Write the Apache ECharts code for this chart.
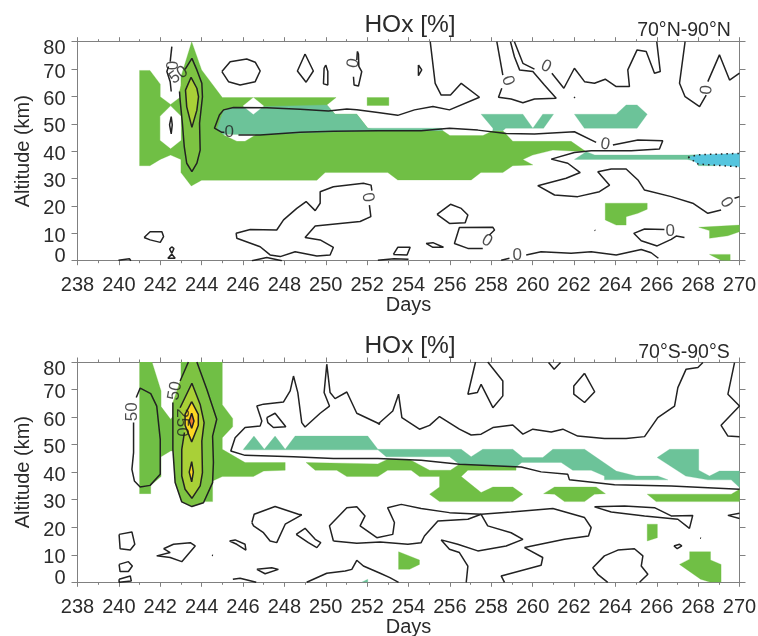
<!DOCTYPE html>
<html><head><meta charset="utf-8">
<style>html,body{margin:0;padding:0;background:#fff}#c{width:758px;height:636px}</style>
<script src="https://cdn.jsdelivr.net/npm/echarts@6/dist/echarts.min.js"></script>
</head><body><div id="c"></div>
<script>
// ---------- 70N-90N : filled contour regions [day, altitude km] ----------
const northGreen = [
 [[241,69.5],[241.5,69.5],[242,64.5],[242,59.9],[242.5,57.1],[243,59.9],[243,67.2],[243.52,80],[244,69.7],[245,59.6],[250.5,59.6],[250.05,56.9],[250.45,53.5],[251.5,53.5],[252.03,48.4],[252.5,47.5],[255.66,47.5],[256,45.7],[257.6,45.7],[258.08,47.5],[258.56,47.5],[259.04,43.6],[261.86,43.6],[262.59,39.8],[260.98,40.4],[260,38.6],[259.53,37],[260.01,35],[259.04,34.7],[258.56,32.2],[257.5,32.2],[257.03,29.5],[253.48,29.5],[253,32.2],[249.97,32.2],[249.57,29.4],[244,29.4],[243.5,27.3],[243,32.2],[243,37],[242.5,38.6],[242,37],[241.5,34.7],[241,34.7]],
 [[252,59.6],[253.05,59.6],[253.05,56.7],[252,56.7]],
 [[263.51,21],[265.54,21],[265.54,18.8],[265.09,17.3],[264.52,16.1],[264.52,13],[264.04,13],[263.51,14.9]],
 [[268.03,12.2],[270,13],[270,10.6],[269.44,9.1],[268.55,8.2],[268.55,11]],
 [[268.55,2.3],[269.55,2.3],[269.55,0],[269.1,0.2]]
];
const northTeal = [
 [[244.75,48.4],[245.05,54.8],[245.5,56],[250.05,56.9],[250.45,53.5],[251.5,53.5],[252.03,48.4],[255.6,48.4],[255.66,47.5],[252,47.5],[246.8,46],[245.05,46]],
 [[257.51,53.5],[259.53,53.5],[260.01,48.4],[260.49,53.5],[261.01,53.5],[260.53,48.4],[258.7,48.4],[258.56,47.5],[258.08,47.5],[258.08,48.4]],
 [[262.02,53.5],[264.04,53.5],[264.52,56.9],[265.05,56.9],[265.54,53.5],[265.05,48.4],[262.5,48.4]],
 [[262.02,37],[262.59,39.8],[263,38.6],[267.5,38.6],[268,38.7],[268,34.7],[268.9,34.7],[267.47,37]]
];
const northHoles = [
 [[242,52.8],[242.5,56.5],[243,52.8],[243,44],[242.5,41],[242,44]],
 [[246.5,59.6],[247,56.5],[246.5,53.5],[246,56.5]],
 [[245.07,46],[245.7,43.7],[246.1,43.7],[246.6,46]]
];
const northBlue = [[267.52,37.8],[268,38.7],[270,39.2],[270,34.3],[268,35.3]];
const northBlueEdgeTop = [[267.52,37.8],[268,38.7],[270,39.2]];
const northBlueEdgeLow = [[267.52,37.8],[268,35.3],[270,34.3]];
const northPeakOuter = [[243.2,69.9],[243.53,73.9],[243.77,69.7],[244.01,64.8],[244.04,59.9],[243.9,50.2],[243.93,40.4],[243.77,35.6],[243.53,32.5],[243.28,35.6],[243.16,41.7],[243.07,50.2],[242.96,58.7],[242.93,61.8]];
const northPeakInner = [[243.49,67],[243.77,63],[243.85,59.9],[243.77,55],[243.53,48.7],[243.28,56.2],[243.22,62.3]];
// ---------- 70N-90N : open contour lines ----------
const northLines = [
 [[242.56,78.2],[242.48,72.7]],
 [[242.4,70.9],[242.32,69.1],[242.48,65.4],[242.53,61.8]],
 [[245.1,46.9],[244.98,46.9],[244.62,48.4],[244.86,53.2],[245.06,55.1],[245.54,56],[247.15,55.9],[248.76,55.3],[250.13,54.7],[251.02,55.4],[251.5,55.1],[252.52,54.1],[253.48,53.1],[254.29,55.1],[255.18,56.3],[255.98,55.1],[257.43,59.7],[256.55,64.8],[256.03,60.5],[255.58,60.5],[255.29,64.8],[255.05,80]],
 [[245.78,45.9],[246.83,45.9],[248.76,46.9],[250.37,47.3],[252.52,47.5],[254.61,47.5],[255.98,48.4],[257.35,47.7],[258.72,46.5],[260.09,46.3],[262.02,47.1],[263.07,43.2]],
 [[263.88,42.3],[265.09,44.1],[266.29,43.8],[266.13,40.8],[264.76,40.2],[262.83,40.2],[262.02,39.5],[260.9,37.1],[261.7,35.6],[262.3,32.2],[261.62,30.1],[260.25,27.4],[261.06,24],[262.18,23.4],[263.23,25.2],[263.72,27.6],[263.15,32.5],[263.8,33.5],[264.52,33.5],[265.09,29.5],[265.41,25.8],[266.7,23.4],[267.74,21],[268.47,17.3],[269.11,18.5]],
 [[269.76,22.8],[270,23.4]],
 [[258.27,80],[258.56,67.8]],
 [[258.51,63],[258.35,59.7],[258.96,59.1],[259.53,57.7],[260.09,59.1],[261.14,59.3],[260.57,64.2],[260.01,69.1],[259.37,69.7],[259.12,74.5],[258.93,80]],
 [[259.12,80],[259.53,72.1],[260.09,70]],
 [[260.93,68.5],[261.51,63],[262.02,70.3],[262.51,65.4],[262.99,64.8],[263.51,66.3],[264.04,63.6],[264.68,63.6],[264.6,69.7],[265.05,77],[265.49,76.4],[265.89,68.5],[266.17,69.1],[266,80]],
 [[267.37,80],[267.1,64.8],[267.37,59.9],[268.07,56.3],[268.39,60.5]],
 [[268.47,65.4],[269.03,75.2],[269.52,66],[270,68.5]],
 [[251.53,76.4],[251.5,73.3]],
 [[251.34,67.2],[251.37,64.2],[251.58,63.8],[251.74,69.1],[251.6,71],[251.58,75.5],[251.53,76.4]],
 [[252.11,20.3],[252.18,16.1],[251.66,14.3],[249.49,12.7],[249,8.5],[249.73,7.6],[250.37,4.9],[250.21,2.1],[249.57,1.7],[248.52,3.3],[247.8,1.5],[247.31,2.1],[246.83,5.1],[245.7,8.2],[245.67,10],[246.35,11.4],[247.63,11.2],[247.96,14.9],[248.6,19.1],[249.05,21.6],[249.49,18.3],[249.73,21],[249.73,25.2],[250.37,27],[251.82,28.3],[252.19,27.6],[252.23,25.6]],
 [[257.91,9.4],[258.16,11.2],[258.08,12.2],[256.46,12.1],[256.22,6.3],[256.87,4.5],[257.59,4.5]],
 [[258.48,0.2],[258.88,0.9]],
 [[259.69,2.1],[260.41,3.3],[261.86,2.7],[262.83,3.3],[264.04,2.1],[265.25,4.1],[265.73,2.9],[266.08,0.9]],
 [[266.37,11.4],[265.41,11.6],[264.89,10],[265.25,7.3],[266.02,5.4],[266.7,7.8],[266.94,9],[267.34,8.5]],
 [[252.52,0.2],[253.3,0.7],[254,0.5]],
 [[239.98,0.2],[240.51,0.7],[240.58,0]],
 [[246.43,0],[247.15,1.2],[247.88,0]],
 [[262,59.8],[262.05,59.5]],
 [[263,11.2],[263.03,11]]
];
const northLoops = [
 [[242.53,52.6],[242.58,49.6],[242.53,46.3],[242.45,49.6]],
 [[244.98,69.1],[245.38,72.7],[246.18,73.7],[246.59,72.5],[246.83,69.3],[246.59,65.4],[245.86,64.2],[245.3,65.4]],
 [[249,75.5],[249.4,69.3],[249.05,65.2],[248.63,69.3]],
 [[250,71.5],[250.1,69.1],[250.1,64.2],[249.89,64.6],[249.92,70.3]],
 [[241.22,8.5],[241.51,10.6],[242.08,10.6],[242.16,8.8],[242,6.7],[241.51,7.6]],
 [[242.56,5.1],[242.66,4.4],[242.56,2.7],[242.45,4.3]],
 [[242.56,2.4],[242.72,0.9],[242.37,0.9]],
 [[254.48,71.5],[254.64,69.7],[254.48,67.6]],
 [[255.38,16.9],[256.03,20.6],[256.55,19.1],[256.87,16.7],[256.74,13.9],[255.98,13.6]],
 [[254.85,6.3],[255.18,6.6],[255.69,4.9],[255.18,4.9]],
 [[253.27,2.3],[253.48,4.9],[254.08,4.9],[253.93,2.1]]
];
const northLabels = [
 ['0',242.64,71.3,90],['50',242.88,67.8,35],['0',245.33,46.9,0],['0',252.03,23.1,-80],['0',251.34,72.1,80],
 ['0',258.8,65.7,-70],['0',260.65,70.9,-25],['0',263.51,42.5,-10],['0',269.36,21.3,-60],['0',268.42,62.4,85],
 ['0',257.79,7.3,-30],['0',259.25,2.1,0],['0',266.65,10.6,0]
];
// ---------- 70S-90S : filled contour regions ----------
const southGreen = [
 [[241,80],[241.6,80],[242.04,69.5],[242.04,63.8],[242.5,59.2],[243,63.7],[243,80],[245,80],[245,64.5],[245.5,59.5],[245.5,56.5],[245,52.5],[245,48.3],[246.1,43.5],[248.04,43.5],[248.04,40.7],[247,40.4],[246.5,38.4],[245,38.4],[244.53,36.8],[244.53,29.3],[243.04,29.3],[243,36.2],[243,47.7],[242.5,47.7],[242.04,45.6],[242.04,38.4],[241.54,35.2],[241.54,32.2],[241,32.2]],
 [[249.05,43.5],[252.52,43],[252.99,44.7],[254.03,44.7],[255.02,40.7],[256.03,40.7],[256.46,42.9],[259.2,42.3],[259.2,40.7],[256.87,40.7],[256.55,38.4],[257.51,32.6],[258.08,34.6],[259.04,34.6],[259.53,32],[259.04,29.3],[255.5,29.3],[255.02,32],[255.5,34.6],[255.5,38.4],[254.53,38.4],[254.13,40.7],[252.99,40.7],[252.52,38.4],[251.02,38.4],[250.53,40.7],[249.49,40.7]],
 [[260.53,32.2],[261.06,34.6],[263.07,34.6],[263.52,32.2],[262.99,32],[262.51,29.3],[261.54,29.3],[261.06,32]],
 [[265.54,32],[269.6,32],[270,33.8],[270,29.3],[265.97,29.3]],
 [[265.54,21.1],[266.03,21.1],[266.03,16.2],[265.54,15]],
 [[253.52,11.1],[254.53,8.1],[254.53,6.5],[254.05,4.7],[253.52,4.7]],
 [[267.59,11.1],[268.6,11.1],[268.6,8.1],[269.11,6.5],[269.11,0],[268.6,0],[268.12,1.1],[267.1,6.5],[267.59,8.4]]
];
const southTeal = [
 [[246.02,48.3],[246.53,53.1],[247.03,48.3],[247.55,53.1],[248.04,48.3],[248.52,53.1],[252.03,53.1],[252.52,48.3],[256.55,48.3],[257.03,45.6],[257.59,48.3],[259.04,48.3],[259.53,45.3],[260.49,45.3],[260.98,48.3],[262.51,48.3],[264.04,40.4],[265,38.6],[266.05,38.6],[266.54,37.2],[263.47,37.2],[263.47,38.6],[262.83,40.7],[261.94,40.7],[261.38,43.5],[259.48,43.5],[259.2,41.9],[256.46,42.9],[255.98,45.6],[252.92,45.6],[252.52,48.1],[248.04,48.1],[246.02,48.1]],
 [[266.02,45.3],[266.62,48.3],[268.03,48.3],[268.03,40.7],[268.55,38.6],[269.03,40.4],[270,40.4],[270,34.4],[269.6,37.2],[268.47,37.2],[267.4,38.6]],
 [[251.74,0],[252.03,1.1],[252.03,0]]
];
const southPeakOuter = [[242.96,73.1],[243.36,80],[243.77,80],[244.25,70.1],[244.73,59.2],[244.53,53.1],[244.57,43.5],[244.53,36.2],[244.09,28.9],[243.53,27.5],[243.04,29.2],[242.72,36.2],[242.61,48.3],[242.61,65.3]];
const southLime = [[242.96,63.4],[243.53,72.3],[243.93,64.6],[244.12,58],[244.01,51.3],[244.04,39.8],[243.93,35],[243.53,30.5],[243.2,33.8],[243.04,38.6],[243.04,48.3],[243.17,54.4]];
const southYellow = [
 [[243.52,65.6],[243.84,61],[243.84,57],[243.52,51],[243.2,57],[243.2,61]],
 [[243.52,43.8],[243.6,40],[243.52,36.5],[243.4,40]]
];
const southOrange = [[243.52,61.4],[243.63,58.6],[243.52,55.9],[243.4,58.6]];
// ---------- 70S-90S : open contour lines ----------
const southLines = [
 [[240.84,67.1],[241.03,70.5],[241.54,68.5],[241.83,64],[242,51.9],[242,39.2],[241.51,35.2],[241.03,34.6],[240.75,36.8],[240.63,41],[240.71,47.1],[240.71,58]],
 [[242.96,73.1],[243.36,80]],
 [[252.63,57.4],[251.5,61.4],[251.02,69.1],[250.45,66.7],[250.21,68.9],[250.05,79.2],[249.92,68.9],[250.18,64],[249.73,61.4],[249,56.4],[248.84,58],[248.65,68.9],[248.44,74.9],[248.28,69.5],[247.96,65.5],[246.99,64.7],[246.67,64],[246.91,58.6],[246.83,56.8],[246.1,56.2],[245.62,52.5],[245.41,47.7],[246.1,46.1],[248.44,45.6],[250.37,45],[252.52,45],[254.61,44.3],[256.46,42.9],[259.45,41.9],[260.41,40.1],[261.7,39.2],[261.78,37.2],[263.96,35.4],[266.7,35],[270,33.8]],
 [[252.52,57.4],[253.24,62.2],[253.52,68.3],[253.68,59.8],[254.53,55.6],[255.02,57],[255.5,60.2],[256.46,55.6],[257.03,53.5],[257.51,53.8],[258.08,56.2],[259.04,57.1],[259.53,53.8],[260.01,55.6],[260.9,54.6],[261.46,55.6],[262.18,53.1],[263.47,52.2],[264.52,52.2],[265.41,52.9],[266.05,59.8],[266.86,64],[267.02,70.7],[267.42,77.4],[267.99,78],[268.23,79.8]],
 [[269.76,79.8],[269.44,68.3],[270,64],[269.11,57],[269.44,53.1],[270,52.9]],
 [[257.24,80],[256.87,68.3],[257.33,68.9],[257.51,71.9],[258.08,63.4],[258.56,67.7],[258.56,73.1],[257.83,80]],
 [[260.77,79.8],[261.04,77.4],[261.35,79.8]],
 [[250.37,15],[250.18,20.5],[251.02,27.1],[251.5,27.4],[251.9,24.1],[251.66,20.5],[252.47,16.2],[253.24,17.4],[253.32,21.7],[252.99,27.1],[253.65,28.3],[254.61,26.8],[255.98,25.3],[257.51,24.7],[258.96,25.5],[260.98,26.8],[262.51,23.5],[262.83,19.9],[262.7,16.8],[261.54,15.6],[259.61,12.6],[260.49,9],[260.41,6.2],[258.48,2.3],[258.64,0]],
 [[250.37,15],[251.5,14.2],[252.63,14.6],[253.97,13.8],[254.61,14.4],[254.77,16.8],[255.42,22.3],[256.87,22.9],[257.51,24.7],[257.83,20.5],[258.96,18],[259.53,15.6],[258.72,13.2],[257.35,11.4],[256.38,13.8],[255.58,15.4],[255.98,12],[256.46,10.8],[256.87,5.9],[256.79,0]],
 [[249.08,0],[250.05,3.3],[250.94,4.1],[251.26,4.7],[251.5,8],[251.82,5.9],[252.63,3.3],[253.1,1.7],[253.52,0]],
 [[263.63,0],[263.15,2.9],[262.91,5.3],[263.47,9.6],[264.12,11.7],[264.92,12.2],[265.33,9.6],[265.25,5.9],[265.57,2.9],[265.17,0]],
 [[270,25.1],[269.44,24.3],[270,23.2]],
 [[245.51,1.1],[245.86,1.5],[246.64,0]],
 [[244.5,9.8],[244.55,9.7]],
 [[268.1,16.1],[268.14,16]]
];
const southLoops = [
 [[247.15,59.8],[247.55,61.4],[248.07,56.5],[247.47,56.2],[247.2,58]],
 [[262.51,75.9],[263,69.2],[262.51,65.3],[261.99,68.3],[261.99,71.3]],
 [[240.01,17.4],[240.63,18.3],[240.77,13.8],[240.55,11.7],[240.06,12.2]],
 [[240.01,6.5],[240.46,7.5],[240.65,5.9],[240.46,3.9],[240.06,3.9]],
 [[240.01,1.1],[240.55,2.3],[240.6,0.5],[240.01,0]],
 [[242.16,12.2],[242.64,13.8],[243.45,14.4],[243.69,13.2],[243.04,7.5],[242.48,9],[241.83,9.6],[242.48,10.8]],
 [[245.35,15],[245.62,15.4],[246.1,13.8],[246.14,11.7],[245.7,13.8]],
 [[246.67,4.7],[247.39,5.3],[247.71,4.7],[247.07,3.1]],
 [[246.43,21.7],[246.54,24.7],[247.55,27.5],[248.68,24.7],[248.84,24.5],[248.04,21.1],[247.63,14.4],[247.31,15],[246.99,18],[246.51,20.5]],
 [[248.57,17.4],[249,19.6],[249.49,15.6],[249.76,14.4],[249.57,12.6],[249.16,14.4]],
 [[262.99,27.4],[264.44,27.7],[265.89,27.1],[266.7,24.1],[267.74,24.3],[267.58,19.6],[267.02,22.9],[265.41,24.1],[263.8,25.5]],
 [[266.83,13.2],[267.1,13.8],[267.21,13.2],[266.99,12.2]]
];
const southLabels = [['50',240.63,61.9,90],['50',242.72,69.5,80],['250',243.06,58,-90]];
const tickDays = [238,240,242,244,246,248,250,252,254,256,258,260,262,264,266,268,270];
const tickAltitudes = [0,10,20,30,40,50,60,70,80];
const titleText = 'HOx [%]';
const regionNames = ['70°N-90°N','70°S-90°S'];

const C = {green:'#70bf45',peak:'#7dc342',teal:'#6cc399',blue:'#55c5de',lime:'#a9d037',yellow:'#fbd623',orange:'#ef7d2a',hole:'#ffffff',line:'#222222',axis:'#808080',text:'#2b2b2b'};
const FONT = '"Liberation Sans", Arial, sans-serif';

function fill(points, color, g, z){
  return {type:'custom',xAxisIndex:g*2,yAxisIndex:g*2,z:z,clip:true,silent:true,data:points,encode:{x:0,y:1},
    renderItem:function(params,api){
      if(params.context.rendered) return;
      params.context.rendered=true;
      return {type:'polygon',transition:[],shape:{points:points.map(function(p){return api.coord(p);})},style:{fill:color,stroke:color,lineWidth:0.3}};
    }};
}
function line(points, g, extra){
  return Object.assign({type:'line',xAxisIndex:g*2,yAxisIndex:g*2,z:10,data:points,showSymbol:false,symbol:'none',silent:true,smooth:false,
    lineStyle:{color:C.line,width:1.5}},extra||{});
}
function loop(p){return p.concat([p[0]]);}
function labels(list,g){
  return {type:'scatter',xAxisIndex:g*2,yAxisIndex:g*2,z:12,symbolSize:0,silent:true,
    data:list.map(function(l){return {value:[l[1],l[2]],name:l[0],
      label:{show:true,position:'inside',formatter:l[0],rotate:l[3],fontSize:17,color:'#1f1f1f',fontFamily:FONT}};})};
}
const series=[];
northGreen.forEach(function(p){series.push(fill(p,C.green,0,1));});
series.push(fill(northPeakOuter,C.peak,0,2));
series.push(fill(northPeakInner,C.lime,0,3));
northTeal.forEach(function(p){series.push(fill(p,C.teal,0,2));});
series.push(fill(northBlue,C.blue,0,3));
northHoles.forEach(function(p){series.push(fill(p,C.hole,0,4));});
northLines.forEach(function(p){series.push(line(p,0));});
northLoops.forEach(function(p){series.push(line(loop(p),0));});
series.push(line(northPeakOuter,0));
series.push(line(loop(northPeakInner),0));
series.push(line(northBlueEdgeTop,0,{lineStyle:{color:C.line,width:1.5,type:[1.5,4]}}));
series.push(line(northBlueEdgeLow,0,{lineStyle:{color:C.line,width:1.5,type:[1.5,4]}}));
series.push(labels(northLabels,0));

southGreen.forEach(function(p){series.push(fill(p,C.green,1,1));});
series.push(fill(southPeakOuter,C.peak,1,2));
series.push(fill(southLime,C.lime,1,3));
southYellow.forEach(function(p){series.push(fill(p,C.yellow,1,4));});
series.push(fill(southOrange,C.orange,1,5));
southTeal.forEach(function(p){series.push(fill(p,C.teal,1,2));});
southLines.forEach(function(p){series.push(line(p,1));});
southLoops.forEach(function(p){series.push(line(loop(p),1));});
series.push(line(southPeakOuter.slice(2),1));
series.push(line(southLime,1));
southYellow.forEach(function(p){series.push(line(loop(p),1));});
series.push(line(loop(southOrange),1));
series.push(labels(southLabels,1));

const axisLine={show:true,onZero:false,lineStyle:{color:C.axis,width:1}};
function xAx(g,pos,withLabels){
  return {type:'value',gridIndex:g,position:pos,min:tickDays[0],max:tickDays[tickDays.length-1],interval:tickDays[1]-tickDays[0],
    axisLine:axisLine,splitLine:{show:false},axisTick:{show:true,length:4.5,lineStyle:{color:C.axis}},
    minorTick:{show:true,splitNumber:2,length:2.5,lineStyle:{color:C.axis}},
    axisLabel:{show:withLabels,fontSize:20,margin:15,color:C.text,fontFamily:FONT,hideOverlap:false},
    name:withLabels?'Days':'',nameLocation:'center',nameGap:35,nameMoveOverlap:false,nameTextStyle:{fontSize:20,color:C.text,fontFamily:FONT}};
}
function yAx(g,pos,withLabels){
  const base={fontSize:20,color:C.text,fontFamily:FONT};
  return {type:'value',gridIndex:g,position:pos,min:tickAltitudes[0],max:tickAltitudes[tickAltitudes.length-1],interval:tickAltitudes[1]-tickAltitudes[0],
    axisLine:axisLine,splitLine:{show:false},axisTick:{show:true,length:6,lineStyle:{color:C.axis}},
    axisLabel:{show:withLabels,fontSize:20,margin:12,color:C.text,fontFamily:FONT,hideOverlap:false,
      formatter:function(v){return v===0?'{low|'+v+'}':v===80?'{high|'+v+'}':'{mid|'+v+'}';},
      rich:{low:Object.assign({padding:[0,0,8,0]},base),high:Object.assign({padding:[14,0,0,0]},base),mid:Object.assign({padding:[6,0,0,0]},base)}},
    name:withLabels?'Altitude (km)':'',nameLocation:'center',nameGap:44,nameMoveOverlap:false,nameTextStyle:{fontSize:20,color:C.text,fontFamily:FONT}};
}
const chart=echarts.init(document.getElementById('c'),null,{renderer:'canvas'});
chart.setOption({
  animation:false,backgroundColor:'#fff',
  title:[
    {text:titleText,left:405,top:8,textAlign:'center',textStyle:{fontSize:24.5,fontWeight:'normal',color:C.text,fontFamily:FONT}},
    {text:titleText,left:405,top:329,textAlign:'center',textStyle:{fontSize:24.5,fontWeight:'normal',color:C.text,fontFamily:FONT}},
    {text:regionNames[0],left:679,top:16,textAlign:'center',textStyle:{fontSize:19.5,fontWeight:'normal',color:C.text,fontFamily:FONT}},
    {text:regionNames[1],left:679,top:338,textAlign:'center',textStyle:{fontSize:19.5,fontWeight:'normal',color:C.text,fontFamily:FONT}}
  ],
  grid:[{left:77.5,top:41.7,width:662,height:219,outerBoundsMode:'none',containLabel:false},{left:77.5,top:362,width:662,height:220.3,outerBoundsMode:'none',containLabel:false}],
  xAxis:[xAx(0,'bottom',true),xAx(0,'top',false),xAx(1,'bottom',true),xAx(1,'top',false)],
  yAxis:[yAx(0,'left',true),yAx(0,'right',false),yAx(1,'left',true),yAx(1,'right',false)],
  series:series
});
</script></body></html>
